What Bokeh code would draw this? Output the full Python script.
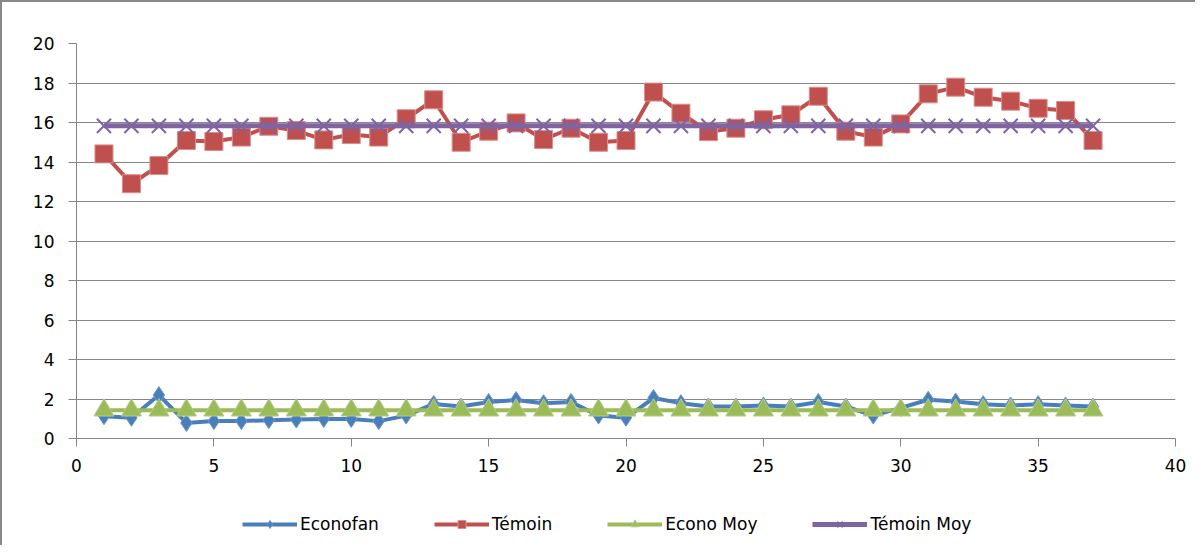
from bokeh.plotting import figure
from bokeh.layouts import column
from bokeh.models import FixedTicker, Legend, LegendItem, Range1d
from bokeh.embed import file_html
from bokeh.resources import INLINE

# ---- data ----
x_vals = list(range(1, 38))
econofan = [1.13, 1.05, 2.2, 0.79, 0.88, 0.88, 0.93, 0.96, 0.99, 0.99, 0.88, 1.16,
            1.75, 1.62, 1.85, 1.95, 1.79, 1.85, 1.16, 1.05, 2.05, 1.79, 1.62, 1.62,
            1.67, 1.62, 1.85, 1.62, 1.16, 1.55, 1.96, 1.87, 1.74, 1.67, 1.74, 1.67, 1.62]
temoin = [14.41, 12.9, 13.82, 15.09, 15.04, 15.26, 15.81, 15.59, 15.12, 15.39, 15.26, 16.19,
          17.15, 15.0, 15.56, 15.98, 15.14, 15.71, 15.0, 15.09, 17.54, 16.47, 15.54, 15.71,
          16.14, 16.39, 17.33, 15.56, 15.26, 15.93, 17.45, 17.79, 17.28, 17.08, 16.72, 16.61, 15.09]
econo_moy = [1.43, 1.43, 1.43, 1.43, 1.43, 1.43, 1.43, 1.43, 1.43, 1.43, 1.43, 1.43, 1.43,
             1.43, 1.43, 1.43, 1.43, 1.43, 1.43, 1.43, 1.43, 1.43, 1.43, 1.43, 1.43, 1.43,
             1.43, 1.43, 1.43, 1.43, 1.43, 1.43, 1.43, 1.43, 1.43, 1.43, 1.43]
temoin_moy = [15.83, 15.83, 15.83, 15.83, 15.83, 15.83, 15.83, 15.83, 15.83, 15.83, 15.83,
              15.83, 15.83, 15.83, 15.83, 15.83, 15.83, 15.83, 15.83, 15.83, 15.83, 15.83,
              15.83, 15.83, 15.83, 15.83, 15.83, 15.83, 15.83, 15.83, 15.83, 15.83, 15.83,
              15.83, 15.83, 15.83, 15.83]
series_names = ["Econofan", "Témoin", "Econo Moy", "Témoin Moy"]
x_ticks = [0, 5, 10, 15, 20, 25, 30, 35, 40]
y_ticks = [0, 2, 4, 6, 8, 10, 12, 14, 16, 18, 20]

BLUE = "#4a7ebb"
RED = "#c0504d"
GREEN = "#9bbb59"
PURPLE = "#8064a2"
GRID = "#868686"
FONT = "DejaVu Sans"

series = [
    (econofan, BLUE, 4, dict(marker="diamond", size=17, fill_color=BLUE, line_color="#6d97cc", line_width=1)),
    (temoin, RED, 4, dict(marker="square", size=18, fill_color=RED, line_color="#d98f8d", line_width=1)),
    (econo_moy, GREEN, 4, dict(marker="triangle", size=20, fill_color=GREEN, line_color="#b3cc88", line_width=1)),
    (temoin_moy, PURPLE, 5, dict(marker="x", size=20, line_color=PURPLE, line_width=2)),
]

# ---- main chart ----
p = figure(width=1193, height=480, output_backend="svg", toolbar_location=None,
           x_range=Range1d(0, 40), y_range=Range1d(0, 20),
           min_border_left=74, min_border_top=41, min_border_right=20, min_border_bottom=44)
p.outline_line_color = None
p.background_fill_color = "white"
p.border_fill_color = "white"

p.xgrid.grid_line_color = None
p.ygrid.grid_line_color = GRID
p.ygrid.grid_line_width = 1
p.ygrid.ticker = FixedTicker(ticks=y_ticks)

p.xaxis.ticker = FixedTicker(ticks=x_ticks)
p.yaxis.ticker = FixedTicker(ticks=y_ticks)
for ax in (p.xaxis, p.yaxis):
    ax.axis_line_color = GRID
    ax.major_tick_line_color = GRID
    ax.minor_tick_line_color = None
    ax.major_tick_in = 0
    ax.major_tick_out = 8
    ax.major_label_text_font = FONT
    ax.major_label_text_font_size = "17px"
    ax.major_label_text_color = "#000000"
p.xaxis.major_label_standoff = 12
p.yaxis.major_label_standoff = 14

for vals, col, lw, mk in series:
    p.line(x_vals, vals, line_color=col, line_width=lw)
    p.scatter(x_vals, vals, **mk)

# ---- legend strip (same series, drawn outside its visible range) ----
lp = figure(width=1193, height=63, output_backend="svg", toolbar_location=None,
            x_range=Range1d(0, 40), y_range=Range1d(100, 120),
            x_axis_location=None, y_axis_location=None,
            min_border_left=0, min_border_right=0, min_border_top=0, min_border_bottom=0)
lp.outline_line_color = None
lp.xgrid.grid_line_color = None
lp.ygrid.grid_line_color = None
lp.background_fill_color = "white"
lp.border_fill_color = "white"

items = []
for name, (vals, col, lw, mk) in zip(series_names, series):
    lr = lp.line(x_vals, vals, line_color=col, line_width=lw)
    sr = lp.scatter(x_vals, vals, **mk)
    items.append(LegendItem(label=name, renderers=[lr, sr]))

legend = Legend(items=items, orientation="horizontal", location=(166, 11))
legend.label_text_font = FONT
legend.label_text_font_size = "17px"
legend.label_text_color = "#000000"
legend.glyph_width = 55
legend.glyph_height = 20
legend.label_standoff = 3
legend.spacing = 55
legend.padding = 5
legend.margin = 0
legend.border_line_color = None
legend.background_fill_alpha = 0
lp.add_layout(legend, "center")

layout = column(p, lp, spacing=0,
                styles={"border-top": "2px solid #888888", "border-left": "2px solid #888888"})

open("out.html", "w").write(file_html(layout, INLINE))
